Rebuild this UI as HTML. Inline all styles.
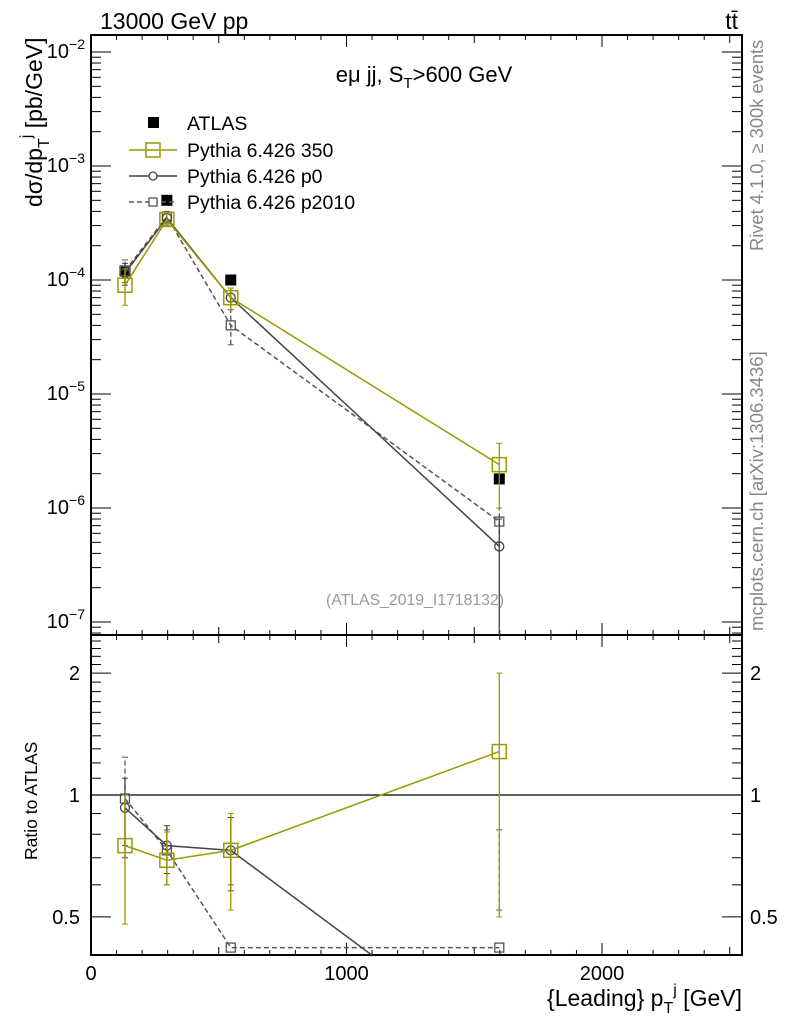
<!DOCTYPE html>
<html><head><meta charset="utf-8"><style>
body{margin:0;background:#fff}
svg{display:block;font-family:"Liberation Sans",sans-serif}
</style></head><body>
<svg id="c" width="786" height="1024" viewBox="0 0 786 1024">
<text x="100" y="29" font-size="23">13000 GeV pp</text>
<text x="738" y="29" font-size="23" text-anchor="end">tt̄</text>
<text x="424" y="82" font-size="22" text-anchor="middle">eμ jj, S<tspan font-size="15" dy="6">T</tspan><tspan dy="-6">&gt;600 GeV</tspan></text>
<text x="415" y="605" font-size="15.8" fill="#999" text-anchor="middle">(ATLAS_2019_I1718132)</text>
<text transform="translate(763,251) rotate(-90)" font-size="18.3" fill="#888">Rivet 4.1.0, ≥ 300k events</text>
<text transform="translate(763,631) rotate(-90)" font-size="18.5" fill="#888">mcplots.cern.ch [arXiv:1306.3436]</text>
<text transform="translate(42,207) rotate(-90)" font-size="23">dσ/dp<tspan font-size="16" dy="7">T</tspan><tspan font-size="16" dy="-18">j</tspan><tspan dy="11"> [pb/GeV]</tspan></text>
<text transform="translate(37,860) rotate(-90)" font-size="17.5">Ratio to ATLAS</text>
<text x="742" y="1006" font-size="23" text-anchor="end">{Leading} p<tspan font-size="16" dy="7">T</tspan><tspan font-size="16" dy="-18">j</tspan><tspan dy="11"> [GeV]</tspan></text>
<g id="legend">
<rect x="148" y="117" width="11" height="11" fill="#000"/>
<text x="187" y="130" font-size="19.5">ATLAS</text>
<line x1="129" y1="150" x2="177" y2="150" stroke="#999900" stroke-width="1.5"/>
<rect x="146" y="143" width="14" height="14" fill="none" stroke="#999900" stroke-width="1.5"/>
<text x="187" y="157" font-size="19.5">Pythia 6.426 350</text>
<line x1="129" y1="176" x2="177" y2="176" stroke="#444" stroke-width="1.5"/>
<circle cx="153" cy="176" r="4" fill="#fff" stroke="#444" stroke-width="1.3"/>
<text x="187" y="183" font-size="19.5">Pythia 6.426 p0</text>
<line x1="129" y1="202" x2="177" y2="202" stroke="#555" stroke-width="1.5" stroke-dasharray="5,3"/>
<rect x="149" y="198" width="8" height="8" fill="#fff" stroke="#555" stroke-width="1.3"/>
<text x="187" y="209" font-size="19.5">Pythia 6.426 p2010</text>
</g>
</svg>
<script>
const xVals=[133,297,547,1598];
const atlas=[1.2e-4,5e-4,1e-4,1.8e-6];
const s350=[9e-5,3.4e-4,7e-5,2.4e-6];
const s350Lo=[6e-5,3.0e-4,5.5e-5,1.0e-6];
const s350Hi=[1.25e-4,3.9e-4,8.5e-5,3.7e-6];
const p0=[1.15e-4,3.5e-4,7e-5,4.6e-7];
const p0Lo=[9e-5,3.1e-4,5.5e-5,5e-8];
const p0Hi=[1.4e-4,3.9e-4,8.5e-5,8e-7];
const p2010=[1.2e-4,3.6e-4,4e-5,7.6e-7];
const p2010Lo=[9.5e-5,3.2e-4,2.7e-5,5e-7];
const p2010Hi=[1.5e-4,4.0e-4,5.5e-5,1.0e-6];
const r350=[0.75,0.69,0.73,1.28];
const r350Lo=[0.48,0.6,0.52,0.5];
const r350Hi=[1.0,0.81,0.9,2.0];
const rp0=[0.93,0.75,0.73,0.235];
const rp0Lo=[0.7,0.64,0.58,0.235];
const rp0Hi=[1.1,0.84,0.88,0.235];
const rp2010=[0.98,0.73,0.42,0.42];
const rp2010Lo=[0.75,0.6,0.6,0.52];
const rp2010Hi=[1.24,0.82,0.88,0.82];
const xTicks=[0,1000,2000];
const yMainTicks=[-7,-6,-5,-4,-3,-2];
const yRatioTicks=[0.5,1,2];

const L=91,R=742,T=35,MB=635,RB=955;
const X=v=>L+v*0.2555;
const Y=v=>280-(Math.log10(v)+4)*114;
const YR=v=>795-Math.log10(v)*405;
const svg=document.getElementById('c');
const NS='http://www.w3.org/2000/svg';
function mk(tag,attrs,parent){const e=document.createElementNS(NS,tag);for(const k in attrs)e.setAttribute(k,attrs[k]);(parent||svg).appendChild(e);return e;}
const defs=mk('defs',{});
const c1=mk('clipPath',{id:'cm'},defs);mk('rect',{x:L,y:T,width:R-L,height:MB-T},c1);
const c2=mk('clipPath',{id:'cr'},defs);mk('rect',{x:L,y:MB,width:R-L,height:RB-MB},c2);
let f=mk('rect',{x:L,y:T,width:R-L,height:MB-T,fill:'none',stroke:'#000','stroke-width':2});


f=mk('rect',{x:L,y:MB,width:R-L,height:RB-MB,fill:'none',stroke:'#000','stroke-width':2});


for(let v=0;v<=2500;v+=100){const big=v%500===0;const len=v%1000===0?12:(big?8:5);const x=X(v);
 for(const [yt,yb] of [[T,MB],[MB,RB]]){mk('line',{x1:x,y1:yt,x2:x,y2:yt+len,stroke:'#000'});mk('line',{x1:x,y1:yb,x2:x,y2:yb-len,stroke:'#000'});}}
xTicks.forEach(v=>{const t=mk('text',{x:X(v),y:980,'font-size':20,'text-anchor':'middle'});t.textContent=v;
 
 });
for(let d=-8;d<=-2;d++){for(let m=1;m<10;m++){const v=m*Math.pow(10,d);const y=Y(v);if(y<T||y>MB)continue;const len=m===1?20:10;
 mk('line',{x1:L,y1:y,x2:L+len,y2:y,stroke:'#000'});mk('line',{x1:R,y1:y,x2:R-len,y2:y,stroke:'#000'});}}
yMainTicks.forEach(d=>{const t=mk('text',{x:85,y:Y(Math.pow(10,d))+6,'font-size':20,'text-anchor':'end'});
 t.innerHTML='10<tspan font-size="14" dy="-9">'+(d<0?'−':'')+Math.abs(d)+'</tspan>';
 
 });
for(let v=0.4;v<=2.5;v+=0.1){const y=YR(v);if(y<MB||y>RB)continue;const big=Math.abs(v-0.5)<1e-6||Math.abs(v-1)<1e-6||Math.abs(v-2)<1e-6;const len=big?20:10;
 mk('line',{x1:L,y1:y,x2:L+len,y2:y,stroke:'#000'});mk('line',{x1:R,y1:y,x2:R-len,y2:y,stroke:'#000'});}
yRatioTicks.forEach(v=>{for(const [x,a] of [[80,'end'],[750,'start']]){const t=mk('text',{x:x,y:YR(v)+7,'font-size':20,'text-anchor':a});t.textContent=v;
 
 }});
mk('line',{x1:L,y1:YR(1),x2:R,y2:YR(1),stroke:'#000','stroke-width':1.3});
function series(vals,lo,hi,yf,clip,color,dash,marker,name){
 const g=mk('g',{'clip-path':'url(#'+clip+')'});
 
 
 const pts=vals.map((v,i)=>X(xVals[i])+','+yf(v)).join(' ');
 mk('polyline',{points:pts,fill:'none',stroke:color,'stroke-width':1.5,'stroke-dasharray':dash},g);
 vals.forEach((v,i)=>{const x=X(xVals[i]);
  mk('line',{x1:x,y1:yf(lo[i]),x2:x,y2:yf(hi[i]),stroke:color,'stroke-width':1.3,'stroke-dasharray':dash},g);
  mk('line',{x1:x-3,y1:yf(lo[i]),x2:x+3,y2:yf(lo[i]),stroke:color},g);
  mk('line',{x1:x-3,y1:yf(hi[i]),x2:x+3,y2:yf(hi[i]),stroke:color},g);
  let m;const y=yf(v);
  if(marker==='big')m=mk('rect',{x:x-7,y:y-7,width:14,height:14,fill:'none',stroke:color,'stroke-width':1.5},g);
  else if(marker==='circ')m=mk('circle',{cx:x,cy:y,r:4.5,fill:'none',stroke:color,'stroke-width':1.3},g);
  else m=mk('rect',{x:x-4.5,y:y-4.5,width:9,height:9,fill:'none',stroke:color,'stroke-width':1.3},g);
  
  
 });
}
const ga=mk('g',{'clip-path':'url(#cm)'});


atlas.forEach((v,i)=>{const r=mk('rect',{x:X(xVals[i])-5.5,y:Y(v)-5.5,width:11,height:11,fill:'#000'},ga);
 
 });
series(p2010,p2010Lo,p2010Hi,Y,'cm','#555','5,3','sq','p2010-series');
series(p0,p0Lo,p0Hi,Y,'cm','#444','','circ','p0-series');
series(s350,s350Lo,s350Hi,Y,'cm','#999900','','big','350-series');
series(rp2010,rp2010Lo,rp2010Hi,YR,'cr','#555','5,3','sq','p2010-ratio');
series(rp0,rp0Lo,rp0Hi,YR,'cr','#444','','circ','p0-ratio');
series(r350,r350Lo,r350Hi,YR,'cr','#999900','','big','350-ratio');
svg.appendChild(document.getElementById('legend'));
</script>
</body></html>
